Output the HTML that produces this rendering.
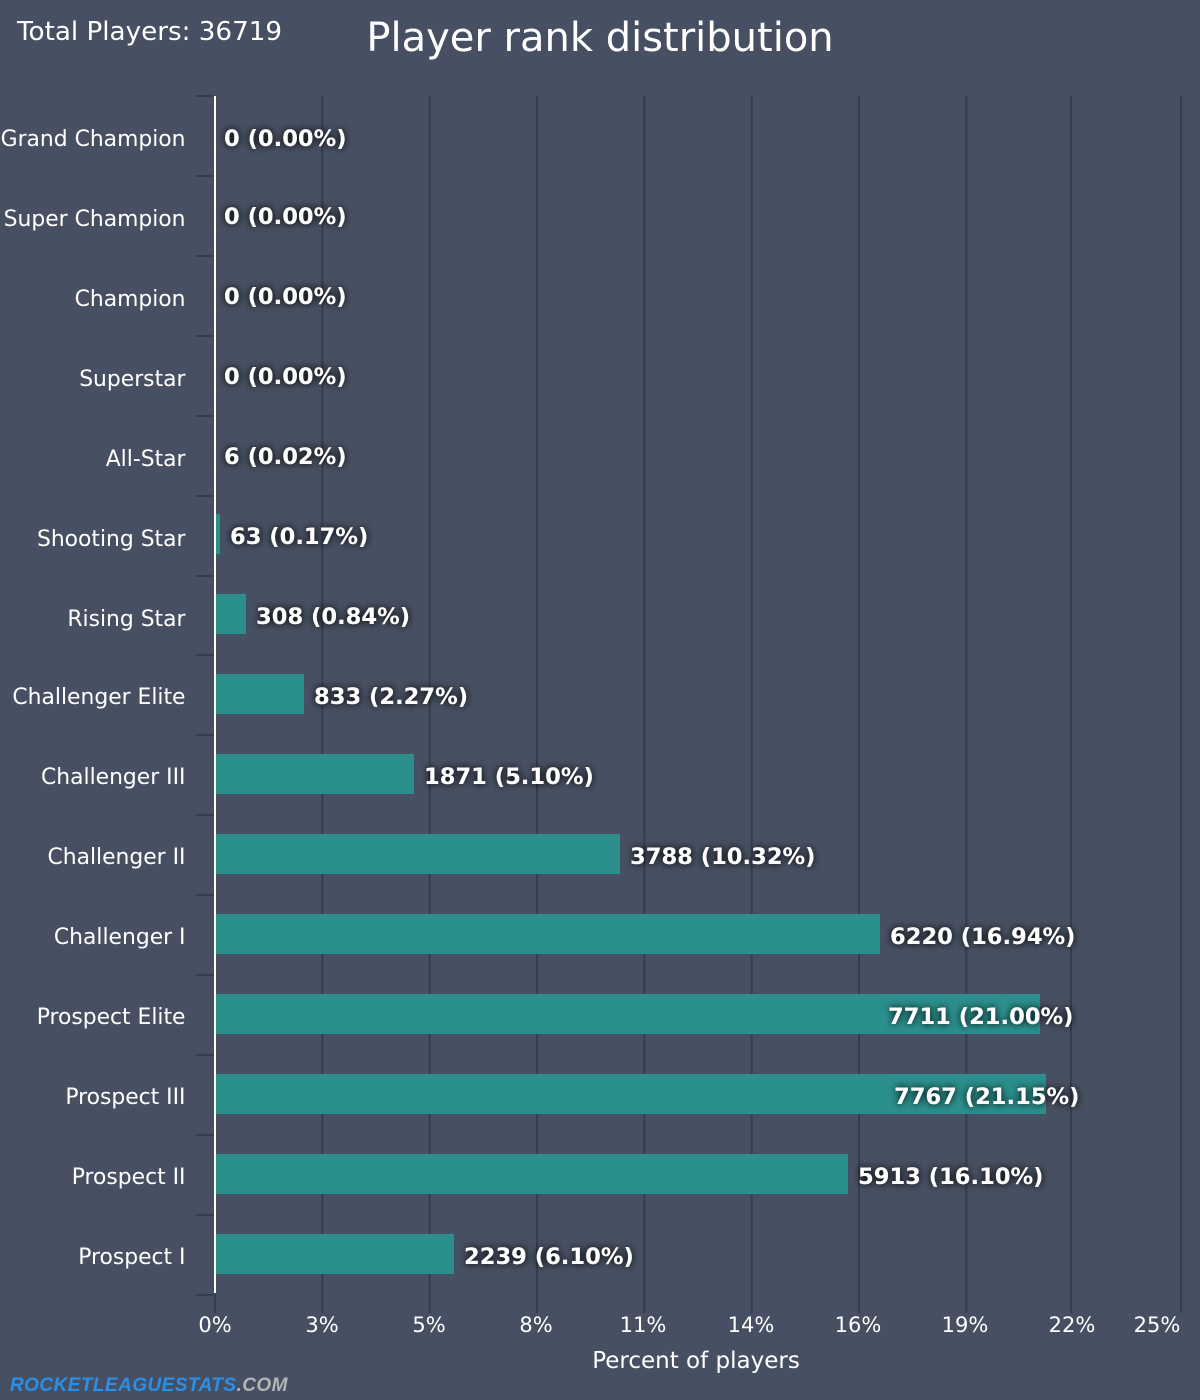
<!DOCTYPE html>
<html><head><meta charset="utf-8"><style>
html,body{margin:0;padding:0;background:#475062;}
svg{display:block;}
</style></head><body>
<svg width="1200" height="1400" viewBox="0 0 1200 1400" xmlns="http://www.w3.org/2000/svg" font-family="'DejaVu Sans','Liberation Sans',sans-serif">
<defs>
<filter id="sh" x="-20%" y="-80%" width="140%" height="260%">
<feGaussianBlur in="SourceAlpha" stdDeviation="4"/>
<feComponentTransfer><feFuncA type="linear" slope="1.1"/></feComponentTransfer>
<feMerge><feMergeNode/><feMergeNode in="SourceGraphic"/></feMerge>
</filter>
</defs>
<rect width="1200" height="1400" fill="#475062"/>
<text x="17" y="40" font-size="26.2" fill="#ffffff">Total Players: 36719</text>
<text x="600" y="51" font-size="40" fill="#ffffff" text-anchor="middle">Player rank distribution</text>

<g stroke="#363d4b" stroke-width="2">
<line x1="322.3" y1="96" x2="322.3" y2="1313"/>
<line x1="429.7" y1="96" x2="429.7" y2="1313"/>
<line x1="537" y1="96" x2="537" y2="1313"/>
<line x1="644.3" y1="96" x2="644.3" y2="1313"/>
<line x1="751.7" y1="96" x2="751.7" y2="1313"/>
<line x1="859" y1="96" x2="859" y2="1313"/>
<line x1="966.3" y1="96" x2="966.3" y2="1313"/>
<line x1="1071" y1="96" x2="1071" y2="1313"/>
<line x1="1181" y1="96" x2="1181" y2="1313"/>
<line x1="215" y1="1293" x2="215" y2="1313"/>
</g>
<g stroke="#363d4b" stroke-width="2">
<line x1="196" y1="96" x2="214" y2="96"/>
<line x1="196" y1="176" x2="214" y2="176"/>
<line x1="196" y1="256" x2="214" y2="256"/>
<line x1="196" y1="336" x2="214" y2="336"/>
<line x1="196" y1="416" x2="214" y2="416"/>
<line x1="196" y1="496" x2="214" y2="496"/>
<line x1="196" y1="576" x2="214" y2="576"/>
<line x1="196" y1="655" x2="214" y2="655"/>
<line x1="196" y1="735" x2="214" y2="735"/>
<line x1="196" y1="815" x2="214" y2="815"/>
<line x1="196" y1="895" x2="214" y2="895"/>
<line x1="196" y1="975" x2="214" y2="975"/>
<line x1="196" y1="1055" x2="214" y2="1055"/>
<line x1="196" y1="1135" x2="214" y2="1135"/>
<line x1="196" y1="1215" x2="214" y2="1215"/>
<line x1="196" y1="1295" x2="214" y2="1295"/>
</g>

<g fill="#2b8f8c">
<rect x="216" y="514" width="4" height="40"/>
<rect x="216" y="594" width="30" height="40"/>
<rect x="216" y="674" width="88" height="40"/>
<rect x="216" y="754" width="198" height="40"/>
<rect x="216" y="834" width="404" height="40"/>
<rect x="216" y="914" width="664" height="40"/>
<rect x="216" y="994" width="824" height="40"/>
<rect x="216" y="1074" width="830" height="40"/>
<rect x="216" y="1154" width="632" height="40"/>
<rect x="216" y="1234" width="238" height="40"/>
</g>
<line x1="215" y1="96" x2="215" y2="1293" stroke="#ffffff" stroke-width="2"/>

<g font-size="21.85" fill="#ffffff" text-anchor="end">
<text x="185.5" y="146">Grand Champion</text>
<text x="185.5" y="226">Super Champion</text>
<text x="185.5" y="306">Champion</text>
<text x="185.5" y="386">Superstar</text>
<text x="185.5" y="466">All-Star</text>
<text x="185.5" y="546">Shooting Star</text>
<text x="185.5" y="626">Rising Star</text>
<text x="185.5" y="704">Challenger Elite</text>
<text x="185.5" y="784">Challenger III</text>
<text x="185.5" y="864">Challenger II</text>
<text x="185.5" y="944">Challenger I</text>
<text x="185.5" y="1024">Prospect Elite</text>
<text x="185.5" y="1104">Prospect III</text>
<text x="185.5" y="1184">Prospect II</text>
<text x="185.5" y="1264">Prospect I</text>
</g>

<g font-size="22.6" font-weight="bold" fill="#ffffff" filter="url(#sh)">
<text x="224" y="146">0 (0.00%)</text>
<text x="224" y="224">0 (0.00%)</text>
<text x="224" y="304">0 (0.00%)</text>
<text x="224" y="384">0 (0.00%)</text>
<text x="224" y="464">6 (0.02%)</text>
<text x="230" y="544">63 (0.17%)</text>
<text x="256" y="624">308 (0.84%)</text>
<text x="314" y="704">833 (2.27%)</text>
<text x="424" y="784">1871 (5.10%)</text>
<text x="630" y="864">3788 (10.32%)</text>
<text x="890" y="944">6220 (16.94%)</text>
<text x="888" y="1024">7711 (21.00%)</text>
<text x="894" y="1104">7767 (21.15%)</text>
<text x="858" y="1184">5913 (16.10%)</text>
<text x="464" y="1264">2239 (6.10%)</text>
</g>

<g font-size="21" fill="#ffffff" text-anchor="middle">
<text x="215" y="1332">0%</text>
<text x="322" y="1332">3%</text>
<text x="429" y="1332">5%</text>
<text x="536" y="1332">8%</text>
<text x="643" y="1332">11%</text>
<text x="751" y="1332">14%</text>
<text x="858" y="1332">16%</text>
<text x="965" y="1332">19%</text>
<text x="1072" y="1332">22%</text>
<text x="1157" y="1332">25%</text>
</g>
<text x="696" y="1368" font-size="23" fill="#ffffff" text-anchor="middle">Percent of players</text>

<text x="10" y="1391" font-size="19" font-weight="bold" font-style="italic" letter-spacing="0.45" font-family="'Liberation Sans',sans-serif"><tspan fill="#2a8fe8">ROCKETLEAGUESTATS</tspan><tspan fill="#b4b4b4">.COM</tspan></text>
</svg>
</body></html>
